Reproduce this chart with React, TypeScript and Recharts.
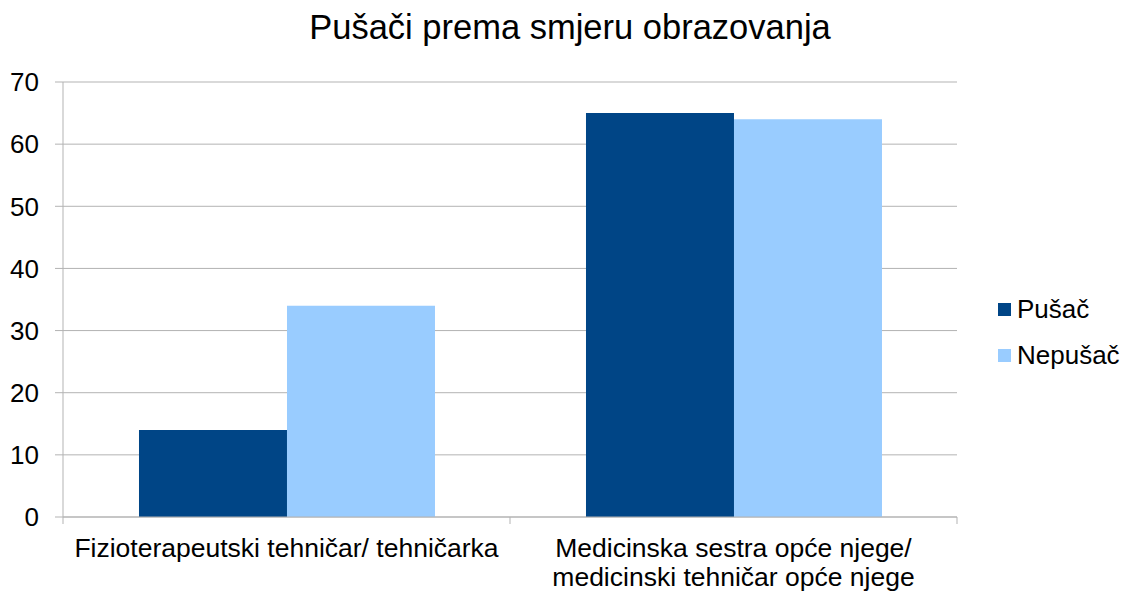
import { Bar, BarChart, CartesianGrid, XAxis, YAxis } from "recharts";

const categories = ["Fizioterapeutski tehničar/ tehničarka", "Medicinska sestra opće njege/\nmedicinski tehničar opće njege"];
const seriesNames = ["Pušač", "Nepušač"];
const seriesColors = ["#004586", "#99ccff"];
const pusac = [14, 65];
const nepusac = [34, 64];
const yTicks = [0, 10, 20, 30, 40, 50, 60, 70];

const data = categories.map((name, i) => ({ name, pusac: pusac[i], nepusac: nepusac[i] }));

const FONT = '"Liberation Sans", Arial, sans-serif';
const GRID = "#b3b3b3";
const W = 1124;
const H = 594;
const M = { top: 82, right: 167, left: 0, bottom: 0 };
const Y_W = 63;
const PLOT_W = W - M.right - Y_W;
const BAND = PLOT_W / categories.length;

function CatTick(props: any) {
  const { x, y, payload, index } = props;
  const lines = String(payload.value).split("\n");
  const top = y - 8;
  return (
    <g>
      <line x1={x - BAND / 2} x2={x - BAND / 2} y1={top} y2={top + 7} stroke={GRID} />
      {index === categories.length - 1 && (
        <line x1={x + BAND / 2} x2={x + BAND / 2} y1={top} y2={top + 7} stroke={GRID} />
      )}
      <text x={x} y={top + 40} textAnchor="middle" fontSize={26.5} fill="#000" fontFamily={FONT}>
        {lines.map((l, i) => (
          <tspan key={i} x={x} dy={i === 0 ? 0 : 29}>
            {l}
          </tspan>
        ))}
      </text>
    </g>
  );
}

export default function App() {
  return (
    <div style={{ position: "absolute", left: 0, top: 0, width: W, height: H, background: "#fff" }}>
      <div
        style={{
          position: "absolute",
          top: 8,
          left: 0,
          width: W + 16,
          textAlign: "center",
          fontFamily: FONT,
          fontSize: 34.5,
          color: "#000",
        }}
      >
        Pušači prema smjeru obrazovanja
      </div>
      <div style={{ position: "absolute", left: 998, top: 286, fontFamily: FONT, fontSize: 26, color: "#000" }}>
        {seriesNames.map((n, i) => (
          <div key={n} style={{ display: "flex", alignItems: "center", height: 46 }}>
            <span style={{ width: 13, height: 13, background: seriesColors[i], marginRight: 6 }} />
            {n}
          </div>
        ))}
      </div>
      <BarChart width={W} height={H} data={data} margin={M} barCategoryGap="17%" barGap={0}>
        <CartesianGrid vertical={false} stroke={GRID} />
        <XAxis
          dataKey="name"
          height={77}
          interval={0}
          tickLine={false}
          axisLine={{ stroke: GRID }}
          tick={<CatTick />}
        />
        <YAxis
          width={Y_W}
          domain={[0, 70]}
          ticks={yTicks}
          tickSize={8}
          tickMargin={16}
          tickLine={{ stroke: GRID }}
          axisLine={{ stroke: GRID }}
          tick={{ fill: "#000", fontSize: 26, fontFamily: FONT }}
        />
        <YAxis yAxisId="r" orientation="right" width={0} tick={false} axisLine={{ stroke: GRID }} />
        <Bar dataKey="pusac" name={seriesNames[0]} fill={seriesColors[0]} isAnimationActive={false} />
        <Bar dataKey="nepusac" name={seriesNames[1]} fill={seriesColors[1]} isAnimationActive={false} />
      </BarChart>
    </div>
  );
}
